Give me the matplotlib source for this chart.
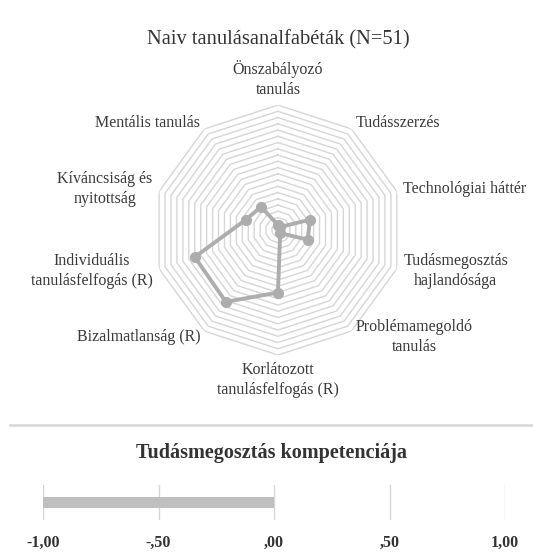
import numpy as np
import matplotlib
matplotlib.use('Agg')
import matplotlib.pyplot as plt

plt.rcParams['font.family'] = ['Liberation Serif', 'DejaVu Serif']

# radar data (scale -1 .. 1)
labels = ['Önszabályozó\ntanulás', 'Tudásszerzés', 'Technológiai háttér',
          'Tudásmegosztás\nhajlandósága', 'Problémamegoldó\ntanulás',
          'Korlátozott\ntanulásfelfogás (R)', 'Bizalmatlanság (R)',
          'Individuális\ntanulásfelfogás (R)', 'Kíváncsiság és\nnyitottság',
          'Mentális tanulás']
values = [-0.92, -0.94, -0.46, -0.50, -0.94, 0.00, 0.42, 0.40, -0.46, -0.54]

# bottom bar
bar_label = 'Tudásmegosztás kompetenciája'
bar_value = -1.0
bar_ticks = [-1.0, -0.5, 0.0, 0.5, 1.0]
bar_ticklabels = ['-1,00', '-,50', ',00', ',50', '1,00']

txt = '#3a3a3a'
gridc = '#d6d6d6'
linec = '#adadad'

fig = plt.figure(figsize=(5.33, 5.53), dpi=100)

ax = fig.add_axes([0.287, 0.358, 0.469, 0.452], projection='polar')
ax.set_theta_zero_location('N')
ax.set_theta_direction(-1)
ax.set_ylim(-1, 1)
ax.grid(False)
ax.spines['polar'].set_visible(False)
ax.set_xticks([])
ax.set_yticks([])
ax.patch.set_alpha(0)

n = len(labels)
ang = np.linspace(0, 2 * np.pi, n, endpoint=False)
ang_c = np.append(ang, ang[0])

# polygon rings
for lvl in np.arange(-0.9, 1.001, 0.1):
    ax.plot(ang_c, [lvl] * (n + 1), color=gridc, lw=1.0, zorder=1)

vals_c = values + values[:1]
ax.plot(ang_c, vals_c, color=linec, lw=2.8, marker='o', ms=7, zorder=3)

# axis labels
for a, lab in zip(ang, labels):
    s = np.sin(a)
    c = np.cos(a)
    if s > 0.1:
        ha = 'left'
    elif s < -0.1:
        ha = 'right'
    else:
        ha = 'center'
    if abs(s) <= 0.1:
        va = 'bottom' if c > 0 else 'top'
    else:
        va = 'center'
    ax.text(a, 1.11, lab, ha=ha, va=va, multialignment='center',
            fontsize=11.5, color=txt, linespacing=1.35)

fig.text(0.522, 0.928, 'Naiv tanulásanalfabéták (N=51)', ha='center', va='center',
         fontsize=14.8, color='#333333')

# separator
fig.add_artist(plt.Line2D([10 / 533, 1.0], [1 - 425 / 553] * 2, color=gridc, lw=1.8,
                          transform=fig.transFigure))

fig.text(0.51, 1 - 453 / 553, bar_label, ha='center', va='center',
         fontsize=14.5, fontweight='bold', color='#333333')

bx = fig.add_axes([43 / 533, 1 - 520 / 553, 462 / 533, 35 / 553])
bx.barh([0], [bar_value], height=0.32, color='#bfbfbf', zorder=2)
bx.set_xlim(-1, 1)
bx.set_ylim(-0.5, 0.5)
bx.set_xticks(bar_ticks)
bx.set_xticklabels(bar_ticklabels, fontsize=11.5, fontweight='bold', color='#333333')
bx.set_yticks([])
bx.tick_params(axis='x', length=0, pad=11)
for x in bar_ticks:
    bx.axvline(x, color=gridc, lw=1, zorder=1)
for sp in bx.spines.values():
    sp.set_visible(False)
bx.patch.set_alpha(0)

fig.savefig('out.png', dpi=100, facecolor='white')
